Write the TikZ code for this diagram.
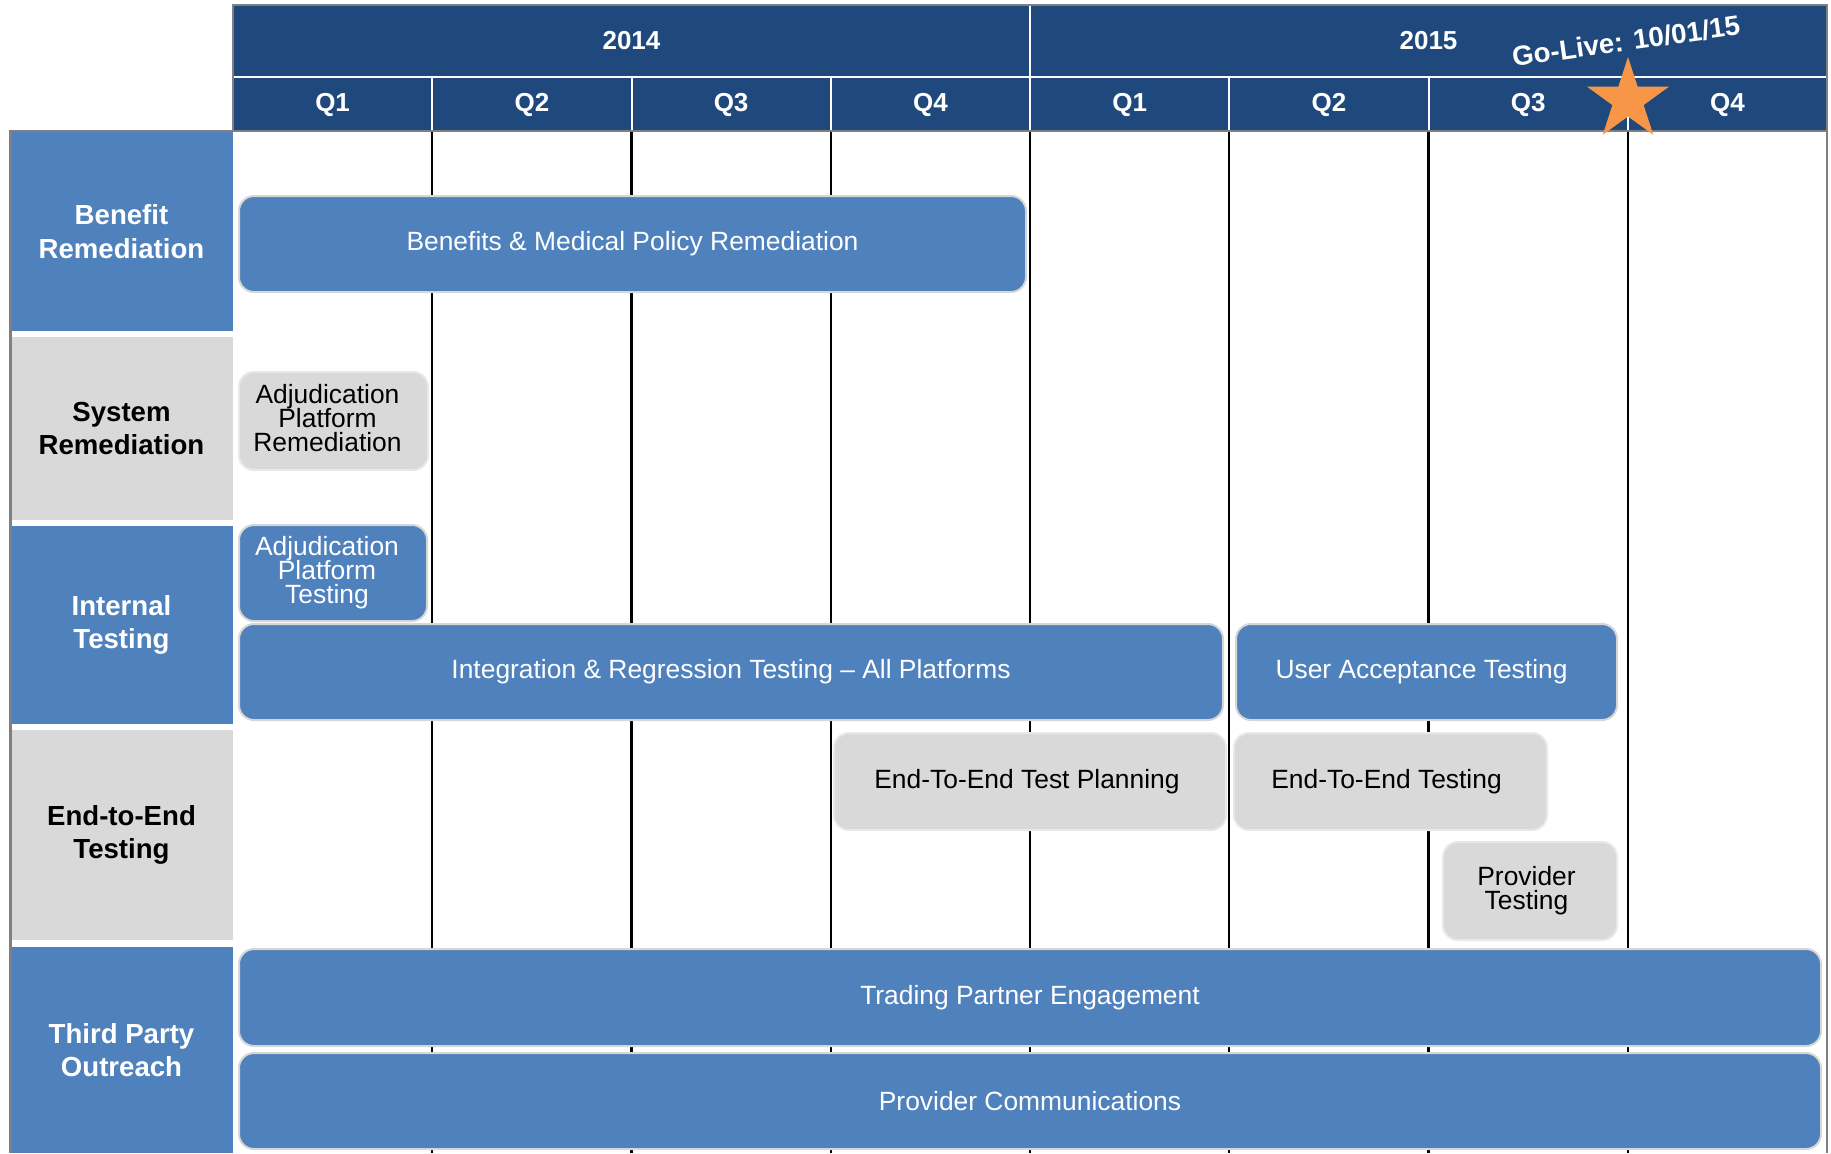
\documentclass[tikz,border=0pt]{standalone}
\usepackage{fontspec}
\setmainfont{Liberation Sans}
\usetikzlibrary{shapes.geometric}
\setlength{\lineskiplimit}{-10pt}

\begin{document}
\begin{tikzpicture}[x=0.5pt,y=0.5pt,yscale=-1,
  bluebar/.style={draw={rgb, 255:red, 214; green, 214; blue, 214 }, line width=1pt, fill={rgb, 255:red, 79; green, 129; blue, 189 }, rounded corners=7.5pt, text=white, inner sep=0pt, align=center, font=\fontsize{13.2}{12}\selectfont},
  graybar/.style={bluebar, draw={rgb, 255:red, 232; green, 232; blue, 232 }, fill={rgb, 255:red, 217; green, 217; blue, 217 }, text=black},
  bartext/.style={inner sep=0pt, align=center, font=\fontsize{13.2}{12}\selectfont},
  blueband/.style={fill={rgb, 255:red, 79; green, 129; blue, 189 }, text=white, inner sep=0pt, align=center, minimum width=111.5pt, font=\fontsize{13.8}{16.8}\selectfont\bfseries},
  grayband/.style={blueband, fill={rgb, 255:red, 217; green, 217; blue, 217 }, text=black},
  headtext/.style={text=white, inner sep=0pt, font=\fontsize{13}{15}\selectfont\bfseries},
  qline/.style={line width=1.2pt, color=black},
  wline/.style={line width=1pt, color=white},
  frameline/.style={line width=1.25pt, color={rgb, 255:red, 128; green, 128; blue, 128 }}
  ]
\useasboundingbox (0,0) rectangle (1831,1153);

%Straight Lines (quarter grid)
\draw [qline] (432.25,132) -- (432.25,1153) ;
\draw [qline] (631.5,132) -- (631.5,1153) ;
\draw [qline] (830.75,132) -- (830.75,1153) ;
\draw [qline] (1030,132) -- (1030,1153) ;
\draw [qline] (1229.25,132) -- (1229.25,1153) ;
\draw [qline] (1428.5,132) -- (1428.5,1153) ;
\draw [qline] (1627.75,132) -- (1627.75,1153) ;

%Shape: Rectangle (header)
\draw [frameline, fill={rgb, 255:red, 31; green, 73; blue, 125 }] (233,5) rectangle (1827,131) ;
\draw [wline] (234,77) -- (1826,77) ;
\draw [wline] (1030,6) -- (1030,130) ;
\draw [wline] (432.25,77) -- (432.25,130) ;
\draw [wline] (631.5,77) -- (631.5,130) ;
\draw [wline] (830.75,77) -- (830.75,130) ;
\draw [wline] (1229.25,77) -- (1229.25,130) ;
\draw [wline] (1428.5,77) -- (1428.5,130) ;
\draw [wline] (1627.75,77) -- (1627.75,130) ;

% Text Node
\node [headtext] (y2014) at (631.5,41) {2014};
\node [headtext] (y2015) at (1428.5,41) {2015};
\node [headtext] (q1a) at (332.6,104.5) {Q1};
\node [headtext] (q2a) at (531.9,104.5) {Q2};
\node [headtext] (q3a) at (731.1,104.5) {Q3};
\node [headtext] (q4a) at (930.4,104.5) {Q4};
\node [headtext] (q1b) at (1129.6,104.5) {Q1};
\node [headtext] (q2b) at (1328.9,104.5) {Q2};
\node [headtext] (q3b) at (1528.1,104.5) {Q3};
\node [headtext] (q4b) at (1727.4,104.5) {Q4};

%Shape: Rectangle (row labels)
\node [blueband, minimum height=99.5pt] (benefitrem) at (121.5,231.5) {Benefit\\Remediation};
\node [grayband, minimum height=91.5pt] (systemrem) at (121.5,428.5) {System\\Remediation};
\node [blueband, minimum height=99pt] (internaltest) at (121.5,625) {Internal\\Testing};
\node [grayband, minimum height=105pt] (endtoend) at (121.5,835) {End-to-End\\Testing};
\node [blueband, minimum height=103pt] (thirdparty) at (121.5,1050) {Third Party\\Outreach};

%Straight Lines (frame)
\draw [frameline] (9,131) -- (233,131) ;
\draw [frameline, line width=1.5pt] (10,130) -- (10,1153) ;
\draw [frameline, line width=1pt] (1827,5) -- (1827,1153) ;

%Shape: Rounded Rect (bars)
\node [bluebar, minimum width=393.5pt, minimum height=48pt] (benefits) at (632.5,244) {Benefits \& Medical Policy Remediation};
\node [graybar, minimum width=94.5pt, minimum height=49pt] (adjrem) at (333.5,421) {};
\node [bartext, xshift=-3pt, yshift=1.5pt] (adjremtext) at (adjrem) {Adjudication\\Platform\\Remediation};
\node [bluebar, minimum width=94pt, minimum height=48pt] (adjtest) at (333,573) {};
\node [bartext, text=white, xshift=-3pt] (adjtesttext) at (adjtest) {Adjudication\\Platform\\Testing};
\node [bluebar, minimum width=492pt, minimum height=48pt] (integ) at (731,672) {Integration \& Regression Testing -- All Platforms};
\node [bluebar, minimum width=190.5pt, minimum height=48pt] (uat) at (1426.5,672) {User Acceptance Testing\hspace*{5pt}};
\node [graybar, minimum width=196pt, minimum height=48.5pt] (e2eplan) at (1030,781.5) {End-To-End Test Planning\hspace*{3pt}};
\node [graybar, minimum width=156.5pt, minimum height=48.5pt] (e2etest) at (1390.5,781.5) {End-To-End Testing\hspace*{4pt}};
\node [graybar, minimum width=87pt, minimum height=49pt] (provtest) at (1530,891) {};
\node [bartext, xshift=-1.75pt] (provtesttext) at (provtest) {Provider\\Testing};
\node [bluebar, minimum width=791pt, minimum height=48.5pt] (trading) at (1030,997.5) {Trading Partner Engagement};
\node [bluebar, minimum width=791pt, minimum height=48pt] (provcomm) at (1030,1101) {Provider Communications};

%Shape: Star
\node [star, star points=5, star point ratio=2.618, minimum size=43pt, inner sep=0pt, fill={rgb, 255:red, 247; green, 150; blue, 70 }] (golivestar) at (1628,100) {};
% Text Node
\node [headtext, rotate=8, font=\fontsize{13.8}{16}\selectfont\bfseries] (golive) at (1626,41) {Go-Live: 10/01/15};

\end{tikzpicture}
\end{document}
